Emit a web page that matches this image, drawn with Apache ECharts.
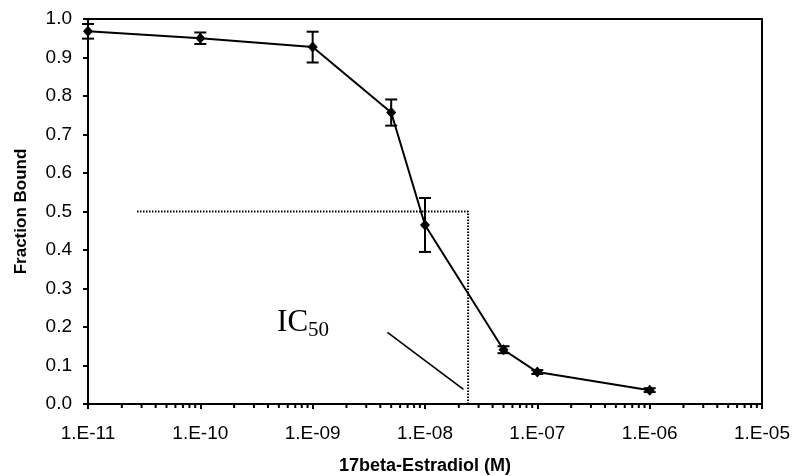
<!DOCTYPE html>
<html>
<head>
<meta charset="utf-8">
<script src="https://cdn.jsdelivr.net/npm/echarts@6/dist/echarts.min.js"></script>
<style>
  html, body { margin: 0; padding: 0; background: #fff; }
  #chart { width: 795px; height: 476px; }
</style>
</head>
<body>
<div id="chart"></div>
<script>
// Competitive binding curve, 17beta-estradiol, log x axis with IC50 marker.
const SANS = "'Liberation Sans', Arial, sans-serif";
const SERIF = "'Liberation Serif', 'Times New Roman', serif";

const conc = [1e-11, 1e-10, 1e-9, 5e-9, 1e-8, 5e-8, 1e-7, 1e-6];
const bound = [0.968, 0.950, 0.927, 0.757, 0.465, 0.141, 0.083, 0.036];
const errs = [0.019, 0.015, 0.040, 0.034, 0.070, 0.009, 0.005, 0.005];

// IC50 guide (dotted) and pointer line, in data units
const icGuide = [[2.73e-11, 0.5], [2.42e-8, 0.5], [2.42e-8, 0]];
const pointer = [[4.63e-9, 0.186], [2.2e-8, 0.038]];
// label anchors: [x, y, text]
const icLabels = [[4.82e-10, 0.210, 'IC'], [9.1e-10, 0.190, '50']];

// minor ticks at 2..9 of each decade
const minorTicks = [];
for (let e = -11; e < -5; e++) {
  for (let k = 2; k <= 9; k++) minorTicks.push([k * Math.pow(10, e), 0]);
}

const chart = echarts.init(document.getElementById('chart'));

function expLabel(v) {
  const e = Math.round(Math.log10(v));
  return '1.E' + (e < 0 ? '-' : '+') + String(Math.abs(e)).padStart(2, '0');
}

chart.setOption({
  animation: false,
  textStyle: { fontFamily: SANS },
  grid: {
    left: 88, right: 33, top: 19, bottom: 72,
    outerBoundsMode: 'none',
    show: true, borderColor: '#000', borderWidth: 2, backgroundColor: 'transparent',
  },
  xAxis: {
    type: 'log', logBase: 10, min: 1e-11, max: 1e-5, splitNumber: 6,
    name: '17beta-Estradiol (M)', nameLocation: 'middle', nameGap: 53,
    nameTextStyle: { fontSize: 18, fontWeight: 'bold', color: '#000' },
    axisLine: { lineStyle: { color: '#000', width: 2 } },
    axisTick: { length: 5, lineStyle: { color: '#000', width: 2 } },
    axisLabel: { formatter: expLabel, fontSize: 19, color: '#000', margin: 20 },
    splitLine: { show: false },
    minorTick: { show: false },
  },
  yAxis: {
    type: 'value', min: 0, max: 1, interval: 0.1,
    name: 'Fraction Bound', nameLocation: 'middle', nameGap: 58,
    nameTextStyle: { fontSize: 17, fontWeight: 'bold', color: '#000' },
    axisLine: { lineStyle: { color: '#000', width: 2 } },
    axisTick: { length: 5, lineStyle: { color: '#000', width: 2 } },
    axisLabel: { formatter: (v) => v.toFixed(1), fontSize: 19, color: '#000', margin: 16 },
    splitLine: { show: false },
  },
  series: [
    {
      type: 'custom', name: 'minor', silent: true, clip: false,
      data: minorTicks,
      renderItem: (params, api) => {
        const p = api.coord([api.value(0), 0]);
        return {
          type: 'line',
          shape: { x1: p[0], y1: p[1], x2: p[0], y2: p[1] + 4 },
          style: { stroke: '#000', lineWidth: 2 },
        };
      },
    },
    {
      type: 'custom', name: 'err', silent: true,
      data: conc.map((c, i) => [c, bound[i] - errs[i], bound[i] + errs[i]]),
      renderItem: (params, api) => {
        const lo = api.coord([api.value(0), api.value(1)]);
        const hi = api.coord([api.value(0), api.value(2)]);
        const w = 6;
        const st = { stroke: '#000', lineWidth: 2 };
        return {
          type: 'group',
          children: [
            { type: 'line', shape: { x1: lo[0], y1: lo[1], x2: hi[0], y2: hi[1] }, style: st },
            { type: 'line', shape: { x1: lo[0] - w, y1: lo[1], x2: lo[0] + w, y2: lo[1] }, style: st },
            { type: 'line', shape: { x1: hi[0] - w, y1: hi[1], x2: hi[0] + w, y2: hi[1] }, style: st },
          ],
        };
      },
    },
    {
      type: 'line', name: 'guide', data: icGuide, showSymbol: false, silent: true,
      lineStyle: { color: '#000', width: 2, type: [1.5, 1.5] },
    },
    {
      type: 'line', name: 'pointer', data: pointer, showSymbol: false, silent: true,
      lineStyle: { color: '#000', width: 1.6 },
    },
    {
      type: 'line', name: 'bound', data: conc.map((c, i) => [c, bound[i]]),
      symbol: 'diamond', symbolSize: [10, 11], showSymbol: true,
      lineStyle: { color: '#000', width: 2 },
      itemStyle: { color: '#000' },
    },
    {
      type: 'scatter', name: 'ic50', symbolSize: 0, silent: true,
      itemStyle: { opacity: 1, color: '#000' },
      data: icLabels.map((d) => ({
        value: [d[0], d[1]],
        label: {
          show: true, position: 'right', distance: 0, formatter: d[2],
          fontFamily: SERIF, color: '#000',
          fontSize: d[2] === 'IC' ? 31 : 21,
        },
      })),
    },
  ],
});
</script>
</body>
</html>
